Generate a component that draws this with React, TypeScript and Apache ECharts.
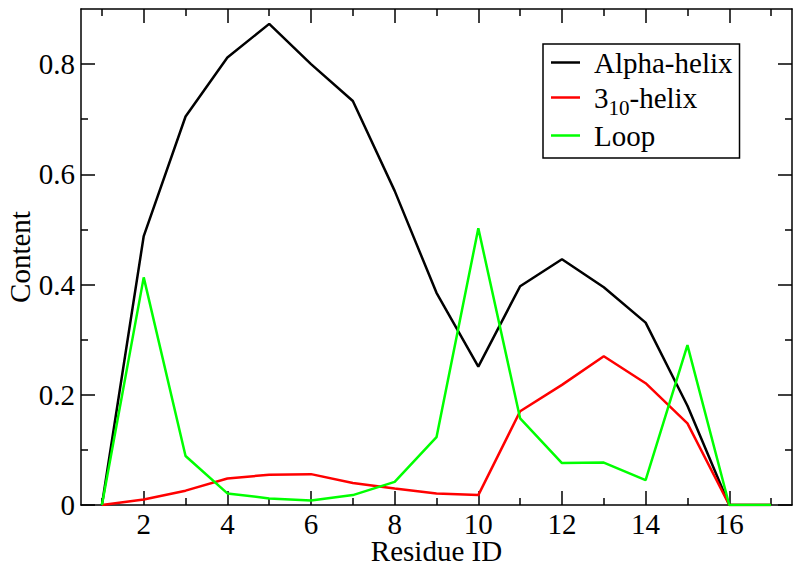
import React, { useEffect, useRef } from "react";
import * as echarts from "echarts";

const residues = [1, 2, 3, 4, 5, 6, 7, 8, 9, 10, 11, 12, 13, 14, 15, 16, 17];
const alphaHelix = [0, 0.488, 0.705, 0.812, 0.873, 0.8, 0.733, 0.57, 0.385, 0.251, 0.397, 0.446, 0.395, 0.331, 0.18, 0, 0];
const helix310 = [0, 0.01, 0.026, 0.048, 0.055, 0.056, 0.04, 0.03, 0.021, 0.018, 0.17, 0.218, 0.27, 0.221, 0.148, 0, 0];
const loop = [0, 0.413, 0.089, 0.021, 0.012, 0.008, 0.018, 0.042, 0.123, 0.502, 0.157, 0.076, 0.077, 0.045, 0.29, 0, 0];

const xMajor = [2, 4, 6, 8, 10, 12, 14, 16];
const xMinor = [1, 3, 5, 7, 9, 11, 13, 15, 17];
const yMajor = [0, 0.2, 0.4, 0.6, 0.8];
const yMinor = [0.1, 0.3, 0.5, 0.7];

const FONT = "'Liberation Serif', 'DejaVu Serif', serif";
const FS = 29;

export default function App() {
  const ref = useRef<HTMLDivElement>(null);
  useEffect(() => {
    if (!ref.current) return;
    const chart = echarts.init(ref.current, undefined, { renderer: "svg" });
    const axisLine = { show: true, lineStyle: { color: "#000", width: 1.5 } };
    const mkX = (pos: "top" | "bottom", ticks: number[], len: number, labels: boolean, line: boolean, name?: string) => ({
      type: "value",
      position: pos,
      min: 0.5,
      max: 17.5,
      gridIndex: 0,
      name: name,
      nameLocation: "middle",
      nameGap: 35,
      nameMoveOverlap: false,
      nameTextStyle: { fontFamily: FONT, fontSize: FS, color: "#000", lineHeight: 22 },
      axisLine: { ...axisLine, show: line, onZero: false },
      axisTick: { show: true, inside: true, length: len, customValues: ticks, lineStyle: { color: "#000", width: 1.5 } },
      axisLabel: labels
        ? { show: true, customValues: ticks, fontFamily: FONT, fontSize: FS, color: "#000", margin: 8, lineHeight: 22 }
        : { show: false },
      splitLine: { show: false },
      minorTick: { show: false },
    });
    const mkY = (pos: "left" | "right", ticks: number[], len: number, labels: boolean, line: boolean, name?: string) => ({
      type: "value",
      position: pos,
      min: 0,
      max: 0.9,
      gridIndex: 0,
      name: name,
      nameLocation: "middle",
      nameGap: 47,
      nameMoveOverlap: false,
      nameTextStyle: { fontFamily: FONT, fontSize: FS, color: "#000" },
      axisLine: { ...axisLine, show: line, onZero: false },
      axisTick: { show: true, inside: true, length: len, customValues: ticks, lineStyle: { color: "#000", width: 1.5 } },
      axisLabel: labels
        ? { show: true, customValues: ticks, fontFamily: FONT, fontSize: FS, color: "#000", margin: 6 }
        : { show: false },
      splitLine: { show: false },
      minorTick: { show: false },
    });
    const mkSeries = (name: string, vals: number[], color: string) => ({
      name,
      type: "line",
      xAxisIndex: 0,
      yAxisIndex: 0,
      symbol: "none",
      lineStyle: { color, width: 2.5 },
      itemStyle: { color },
      data: residues.map((r, i) => [r, vals[i]]),
    });
    chart.setOption({
      animation: false,
      textStyle: { fontFamily: FONT },
      grid: { left: 81, top: 9, right: 8, bottom: 63, containLabel: false, outerBoundsMode: "none" },
      xAxis: [
        mkX("bottom", xMajor, 14, true, true, "Residue ID"),
        mkX("bottom", xMinor, 7, false, false),
        mkX("top", xMajor, 14, false, true),
        mkX("top", xMinor, 7, false, false),
      ],
      yAxis: [
        mkY("left", yMajor, 14, true, true, "Content"),
        mkY("left", yMinor, 7, false, false),
        mkY("right", yMajor, 14, false, true),
        mkY("right", yMinor, 7, false, false),
      ],
      legend: {
        orient: "vertical",
        left: 543,
        top: 44,
        padding: [4, 7, 8, 8],
        itemGap: 3,
        itemWidth: 29,
        itemHeight: 2.5,
        icon: "rect",
        borderColor: "#000",
        borderWidth: 1.5,
        borderRadius: 0,
        backgroundColor: "#fff",
        data: ["Alpha-helix", "3-10-helix", "Loop"],
        formatter: (n: string) =>
          n === "3-10-helix" ? "{gap|}{main|3}{sub|10}{main|-helix}" : "{gap|}{main|" + n + "}",
        textStyle: {
          fontFamily: FONT,
          fontSize: FS,
          color: "#000",
          rich: {
            gap: { width: 9, fontFamily: FONT, fontSize: FS, lineHeight: 35 },
            main: { fontFamily: FONT, fontSize: FS, color: "#000", lineHeight: 35 },
            sub: { fontFamily: FONT, fontSize: 21, color: "#000", lineHeight: 21, padding: [17, 0, 0, 0], verticalAlign: "top" },
          },
        },
      },
      series: [
        mkSeries("Alpha-helix", alphaHelix, "#000000"),
        mkSeries("3-10-helix", helix310, "#ff0000"),
        mkSeries("Loop", loop, "#00ff00"),
      ],
    });
    return () => chart.dispose();
  }, []);
  return <div ref={ref} style={{ width: 800, height: 568, position: "absolute", left: 0, top: 0 }} />;
}
